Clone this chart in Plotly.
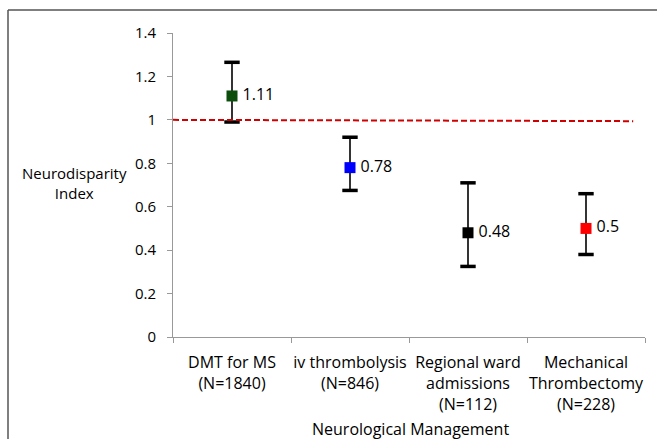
import plotly.graph_objects as go

categories = ["DMT for MS<br>(N=1840)", "iv thrombolysis<br>(N=846)",
              "Regional ward<br>admissions<br>(N=112)", "Mechanical<br>Thrombectomy<br>(N=228)"]
values = [1.11, 0.78, 0.48, 0.5]
upper = [1.265, 0.92, 0.71, 0.66]
lower = [0.99, 0.675, 0.325, 0.38]
labels = ["1.11", "0.78", "0.48", "0.5"]
colors = ["#0b4d0b", "#0000ff", "#000000", "#ff0000"]
reference = 1.0

err_plus = [u - v for u, v in zip(upper, values)]
err_minus = [v - l for v, l in zip(values, lower)]

FONT = "Open Sans"
W, H = 657, 439
# plot area in screen pixels
SX0, SX1, SY0, SY1 = 173, 645, 33, 337
L, T = SX0, SY0
pw, ph = SX1 - SX0, SY1 - SY0
R = W - L - pw
B = H - T - ph

def px_x(p):
    return (p - SX0) / pw
def px_y(p):
    return (SY1 - p) / ph

fig = go.Figure()
fig.add_trace(go.Scatter(
    x=categories, y=values, mode="markers",
    marker=dict(symbol="square", size=1, color="rgba(0,0,0,0)"),
    error_y=dict(type="data", symmetric=False, array=err_plus, arrayminus=err_minus,
                 color="#000", thickness=1.6, width=0),
    hoverinfo="skip", showlegend=False, cliponaxis=False,
))
# error-bar caps (thicker, as in the reference)
fig.add_trace(go.Scatter(
    x=categories + categories, y=upper + lower, mode="markers",
    marker=dict(symbol="line-ew", size=11, line=dict(color="#000", width=3.5)),
    hoverinfo="skip", showlegend=False, cliponaxis=False,
))
fig.add_trace(go.Scatter(
    x=categories, y=values, mode="markers+text",
    text=["\u2009" + t for t in labels], textposition="middle right",
    textfont=dict(family=FONT, size=16, color="#000"),
    marker=dict(symbol="square", size=11, color=colors),
    hoverinfo="skip", showlegend=False, cliponaxis=False,
))

shapes = [
    dict(type="line", xref="x", yref="y", x0=-0.5, x1=3.4, y0=reference, y1=reference - 0.006,
         line=dict(color="#d00000", width=2, dash="6px,3px")),
    dict(type="line", xref="paper", yref="paper", x0=px_x(8), x1=px_x(W + 20),
         y0=px_y(10), y1=px_y(10), line=dict(color="#555", width=1.5)),
    dict(type="line", xref="paper", yref="paper", x0=px_x(8), x1=px_x(8),
         y0=px_y(10), y1=px_y(H + 20), line=dict(color="#555", width=1.5)),
]

fig.update_layout(
    width=W, height=H,
    margin=dict(l=L, r=R, t=T, b=B, autoexpand=False),
    paper_bgcolor="white", plot_bgcolor="white",
    font=dict(family=FONT, size=16, color="#000"),
    shapes=shapes,
    xaxis=dict(type="category", range=[-0.5, 3.5], tickson="boundaries",
               ticks="outside", ticklen=5, tickcolor="#999", tickangle=0, automargin=False,
               showline=True, linecolor="#999", linewidth=1, showgrid=False,
               tickfont=dict(family=FONT, size=16), zeroline=False, ticklabelstandoff=11),
    yaxis=dict(range=[0, 1.4], dtick=0.2, ticks="outside", ticklen=5, tickcolor="#999",
               automargin=False,
               showline=True, linecolor="#999", linewidth=1, showgrid=False,
               zeroline=False, tickfont=dict(family=FONT, size=15), ticklabelstandoff=8),
    annotations=[
        dict(text="Neurodisparity<br>Index", xref="paper", yref="paper",
             x=px_x(74), y=px_y(183), xanchor="center", yanchor="middle",
             showarrow=False, align="center",
             font=dict(family=FONT, size=15)),
        dict(text="Neurological Management", xref="paper", yref="paper",
             x=px_x(410), y=px_y(429), xanchor="center", yanchor="middle",
             showarrow=False,
             font=dict(family=FONT, size=16)),
    ],
)

fig.write_html("out.html", config={"displayModeBar": False},
               post_script="document.body.style.margin='0';document.body.style.overflow='hidden';")
